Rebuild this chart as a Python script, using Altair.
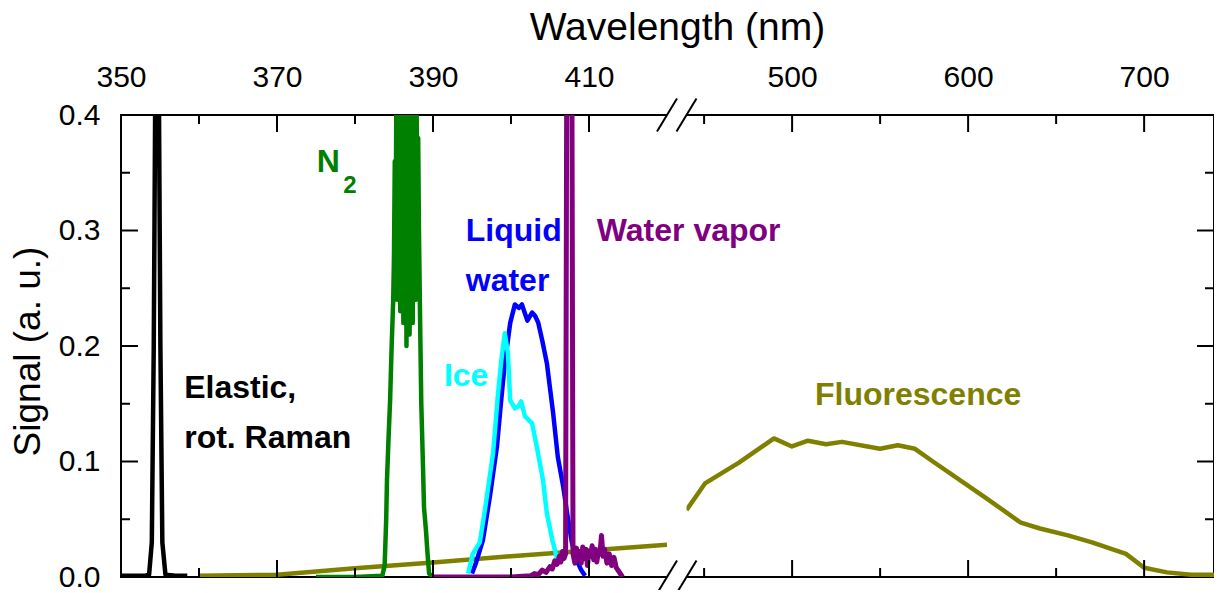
import altair as alt
import pandas as pd

# ---------------- data ----------------
elastic_nm = [350.0, 353.0, 353.6, 353.95, 354.2, 354.4, 354.85, 355.05, 355.3, 355.7, 357.0, 358.5]
elastic_sig = [0.001, 0.001, 0.002, 0.03, 0.2, 0.43, 0.43, 0.2, 0.03, 0.002, 0.001, 0.001]

n2_nm = [375.0, 380.0, 383.5, 383.8, 384.0, 384.1, 384.3, 384.5, 384.7, 384.9,
         385.0, 385.1, 385.2, 385.3, 385.4, 385.5, 385.6, 385.7, 385.8, 385.9,
         386.0, 386.1, 386.2, 386.3, 386.4, 386.5, 386.6, 386.7, 386.8, 386.9,
         387.0, 387.1, 387.2, 387.3, 387.4, 387.5, 387.6, 387.7, 387.8, 387.9,
         388.0, 388.1, 388.2, 388.35, 388.5, 388.7, 388.85, 389.1, 389.3, 389.5,
         390.0]
n2_sig = [0.000, 0.000, 0.001, 0.010, 0.050, 0.084, 0.120, 0.153, 0.200, 0.240,
          0.280, 0.360, 0.260, 0.420, 0.240, 0.440, 0.270, 0.450, 0.230, 0.450,
          0.280, 0.450, 0.220, 0.450, 0.260, 0.450, 0.200, 0.450, 0.250, 0.440,
          0.210, 0.440, 0.260, 0.430, 0.220, 0.430, 0.270, 0.420, 0.240, 0.410,
          0.280, 0.380, 0.300, 0.220, 0.150, 0.100, 0.060, 0.040, 0.020, 0.003,
          0.000]

liquid_nm = [395.0, 395.5, 396.4, 397.3, 398.2, 398.7, 399.2, 399.9, 400.5, 401.0,
             401.4, 401.8, 402.1, 402.7, 403.1, 403.5, 404.0, 404.6, 405.4, 406.0,
             406.7, 407.2, 407.8, 408.4, 409.0, 409.5]
liquid_sig = [0.003, 0.012, 0.032, 0.07, 0.113, 0.15, 0.185, 0.22, 0.236, 0.233,
              0.236, 0.228, 0.222, 0.229, 0.226, 0.22, 0.205, 0.185, 0.142, 0.104,
              0.078, 0.055, 0.03, 0.015, 0.006, 0.001]

ice_nm = [394.5, 395.1, 396.0, 396.7, 397.7, 398.3, 398.8, 399.2, 399.6, 399.9,
          400.5, 401.0, 401.3, 401.8, 402.7, 403.3, 404.1, 404.6, 405.3, 405.9]
ice_sig = [0.003, 0.02, 0.03, 0.06, 0.107, 0.156, 0.19, 0.211, 0.194, 0.153,
           0.146, 0.148, 0.152, 0.139, 0.133, 0.113, 0.084, 0.055, 0.032, 0.016]

vapor_nm = [390.0, 400.0, 402.5, 403.0, 403.5, 404.0, 404.5, 405.0, 405.3, 405.6,
            405.9, 406.2, 406.4, 406.6, 406.8, 407.0, 407.2, 407.75, 407.95, 408.2,
            408.4, 408.6, 408.8, 409.0, 409.2, 409.4, 409.6, 409.8, 410.0, 410.2,
            410.4, 410.6, 410.8, 411.0, 411.2, 411.4, 411.6, 411.8, 412.0, 412.3,
            412.6, 412.9, 413.2, 413.5, 413.8, 414.3]
vapor_sig = [0.0, 0.0, 0.001, 0.003, 0.002, 0.006, 0.004, 0.009, 0.007, 0.014,
             0.011, 0.018, 0.013, 0.022, 0.016, 0.02, 0.6, 0.6, 0.02, 0.012,
             0.025, 0.015, 0.022, 0.012, 0.026, 0.016, 0.024, 0.01, 0.022, 0.018,
             0.027, 0.015, 0.024, 0.013, 0.022, 0.02, 0.036, 0.018, 0.024, 0.012,
             0.02, 0.01, 0.017, 0.008, 0.005, 0.0]

fluor_low_nm = [360, 370, 380, 390, 400, 410, 420]
fluor_low_sig = [0.001, 0.002, 0.0075, 0.0125, 0.018, 0.023, 0.028]
fluor_high_nm = [440, 450.5, 469.8, 489.7, 499.9, 509, 519.3, 528.3, 549.9, 560.1,
                 569.8, 580, 609.6, 630, 640.8, 656.7, 670.4, 689.7, 700, 713,
                 726.7, 740.3]
fluor_high_sig = [0.058, 0.081, 0.099, 0.120, 0.113, 0.118, 0.115, 0.117, 0.111, 0.114,
                  0.111, 0.100, 0.069, 0.047, 0.042, 0.036, 0.030, 0.020, 0.008, 0.004,
                  0.002, 0.002]

labels = ["Elastic,", "rot. Raman", "N", "2", "Liquid", "water", "Ice", "Water vapor", "Fluorescence"]
label_nm = [358.1, 358.1, 375.1, 378.5, 394.2, 394.2, 391.4, 411.0, 513.0]
label_sig = [0.155, 0.1117, 0.3506, 0.3325, 0.291, 0.2476, 0.1654, 0.291, 0.1489]
label_color = ["#000000", "#000000", "#008000", "#008000", "#0000FF", "#0000FF", "#00FFFF", "#800080", "#808000"]
label_size = [32, 32, 32, 24, 32, 32, 32, 32, 32]

top_labels = [350, 370, 390, 410, 500, 600, 700]
major_x_ticks = [370, 390, 410, 500, 600, 700]
minor_x_ticks = [360, 380, 400, 450, 550, 650]
major_y_ticks = [0.1, 0.2, 0.3]
minor_y_ticks = [0.05, 0.15, 0.25, 0.35]
y_labels = [0.0, 0.1, 0.2, 0.3, 0.4]
break_nm = [420, 440]

# ---------------- build ----------------
W, H = 1093, 462
FONT = "Liberation Sans"

xs = alt.Scale(domain=[350, 420, 440, 739.7], range=[0, 546, 565.5, W], nice=False, zero=False)
ys = alt.Scale(domain=[0, 0.4], nice=False, zero=False)

x_axis = alt.Axis(orient="top", values=top_labels, format="d", ticks=False, tickSize=0,
                  domain=False, grid=False, labelFlush=False, labelOverlap=False,
                  labelFontSize=30, labelPadding=29, labelBaseline="alphabetic",
                  labelFont=FONT, labelColor="black",
                  title="Wavelength (nm)", titleFontSize=39, titleFontWeight="normal",
                  titleFont=FONT, titleColor="black",
                  titleX=556, titleY=-76, titleBaseline="alphabetic", titleAlign="center")
y_axis = alt.Axis(orient="left", values=y_labels, format=".1f", ticks=False, tickSize=0,
                  domain=False, grid=False, labelFlush=False, labelOverlap=False,
                  labelFontSize=30, labelPadding=21, labelFont=FONT, labelColor="black",
                  title="Signal (a. u.)", titleFontSize=37, titleFontWeight="normal",
                  titleFont=FONT, titleColor="black",
                  titleX=-82, titleY=236, titleAngle=270, titleBaseline="alphabetic",
                  titleAlign="center")


def X(field):
    return alt.X(field, scale=xs, axis=x_axis)


def Y(field):
    return alt.Y(field, scale=ys, axis=y_axis)


series = [
    ("fluor", [(fluor_low_nm, fluor_low_sig, "a"), (fluor_high_nm, fluor_high_sig, "b")], "#808000", 4.5),
    ("elastic", [(elastic_nm, elastic_sig, "a")], "#000000", 4.5),
    ("n2", [(n2_nm, n2_sig, "a")], "#008000", 4.5),
    ("liquid", [(liquid_nm, liquid_sig, "a")], "#0000FF", 4.5),
    ("ice", [(ice_nm, ice_sig, "a")], "#00FFFF", 4.5),
    ("vapor", [(vapor_nm, vapor_sig, "a")], "#800080", 5),
]

rows = []
for name, segs, _, _ in series:
    for nms, sigs, seg in segs:
        for i, (a, b) in enumerate(zip(nms, sigs)):
            rows.append({"series": name, "seg": seg, "idx": i, "nm": a, "sig": b})
df = pd.DataFrame(rows)

layers = []
for name, _, color, width in series:
    layers.append(
        alt.Chart(df).transform_filter(alt.datum.series == name)
        .mark_line(color=color, strokeWidth=width, clip=True, strokeJoin="round")
        .encode(x=X("nm:Q"), y=Y("sig:Q"), detail="seg:N", order=alt.Order("idx:Q"))
    )

# axis break: white gap with slashes
brk = pd.DataFrame({"nm": [break_nm[0]], "b": [break_nm[1]]})
layers.append(
    alt.Chart(brk).mark_rect(color="white")
    .encode(x=X("nm:Q"), x2="b:Q", y=alt.value(-4), y2=alt.value(H + 4))
)
slash = pd.DataFrame({"nm": break_nm})
for yc in (0, H):
    layers.append(
        alt.Chart(slash).mark_rule(color="black", strokeWidth=2, xOffset=-10, x2Offset=10)
        .encode(x=X("nm:Q"), x2="nm:Q", y=alt.value(yc + 16.5), y2=alt.value(yc - 16.5))
    )


# inward ticks
def xticks(vals, length):
    d = pd.DataFrame({"nm": vals})
    top = alt.Chart(d).mark_rule(color="black", strokeWidth=2).encode(
        x=X("nm:Q"), y=alt.value(0), y2=alt.value(length))
    bot = alt.Chart(d).mark_rule(color="black", strokeWidth=2).encode(
        x=X("nm:Q"), y=alt.value(H), y2=alt.value(H - length))
    return [top, bot]


def yticks(vals, length):
    d = pd.DataFrame({"sig": vals})
    left = alt.Chart(d).mark_rule(color="black", strokeWidth=2).encode(
        y=Y("sig:Q"), x=alt.value(0), x2=alt.value(length))
    right = alt.Chart(d).mark_rule(color="black", strokeWidth=2).encode(
        y=Y("sig:Q"), x=alt.value(W), x2=alt.value(W - length))
    return [left, right]


layers += xticks(major_x_ticks, 17) + xticks(minor_x_ticks, 9)
layers += yticks(major_y_ticks, 17) + yticks(minor_y_ticks, 9)

# annotations
ann = pd.DataFrame({"label": labels, "nm": label_nm, "sig": label_sig,
                    "color": label_color, "size": label_size})
layers.append(
    alt.Chart(ann).mark_text(align="left", baseline="alphabetic", fontWeight="bold", font=FONT)
    .encode(x=X("nm:Q"), y=Y("sig:Q"),
            text="label:N", color=alt.Color("color:N", scale=None),
            size=alt.Size("size:Q", scale=None))
)

chart = (
    alt.layer(*layers)
    .properties(width=W, height=H, autosize=alt.AutoSizeParams(type="none"),
                padding={"left": 113, "top": 107, "right": 0, "bottom": 13})
    .configure(font=FONT, background="white")
    .configure_view(stroke="black", strokeWidth=2)
)

chart.save("out.html", embed_options={"renderer": "svg", "actions": False})
